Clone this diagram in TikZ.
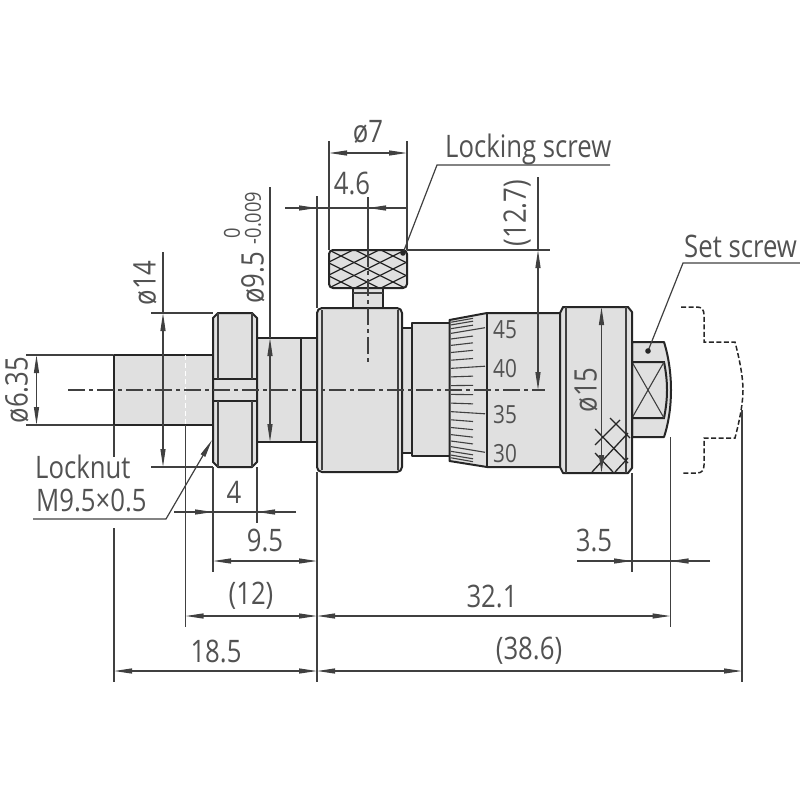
\documentclass[tikz,border=0pt]{standalone}
\usepackage{fontspec}
\setmainfont[FakeStretch=0.83]{Open Sans}
\usetikzlibrary{arrows.meta}

\begin{document}
\begin{tikzpicture}[x=1pt,y=-1pt,
	every node/.style={inner sep=0pt,text=black!68,font=\fontsize{31}{33}\selectfont},
	outline/.style={draw=black!85,line width=2pt,fill=black!12,line join=round},
	edge/.style={draw=black!85,line width=2pt},
	fine/.style={draw=black!75,line width=1.1pt},
	knurl/.style={draw=black!85,line width=1.3pt},
	dim/.style={draw=black!75,line width=1.2pt,>={Triangle[length=18pt,width=5pt]}},
	centre/.style={draw=black!75,line width=1.2pt,dash pattern=on 17pt off 4pt on 4pt off 4pt},
	hidden/.style={draw=black!85,line width=1.5pt,dash pattern=on 5pt off 2.5pt},
	small/.style={font=\fontsize{25}{27}\selectfont},
	tol/.style={font=\fontsize{22}{24}\selectfont},
]
\useasboundingbox (0,0) rectangle (800,800);

% micrometer head, left to right
\draw[outline] (113.5,355) rectangle (213,425);
\draw[outline] (257,338) rectangle (301,442);
\draw[outline] (301,338) rectangle (317,442);
\draw[outline] (218,313) -- (252,313) -- (257,318) -- (257,462) -- (252,467) -- (218,467) -- (213,462) -- (213,318) -- cycle;
\draw[edge] (213,379) -- (257,379) (213,401) -- (257,401);
\draw[fine] (218,313) -- (218,379) (218,401) -- (218,467);
\draw[fine] (252,313) -- (252,379) (252,401) -- (252,467);

\draw[outline] (402,328) rectangle (411.5,453);
\draw[outline] (411.5,323) rectangle (449.5,456);
\draw[outline] (353,288) rectangle (383,308);
\draw[fine] (353,293) -- (383,293);
\draw[outline,rounded corners=5pt] (317,308) rectangle (402,472);
\draw[fine] (322,310) -- (322,470) (398,310) -- (398,470);

\draw[outline] (449.5,320) -- (487,313) -- (560,313) -- (560,467) -- (487,467) -- (449.5,461) -- cycle;
\draw[edge] (487,313) -- (487,467);

% thimble graduations
\foreach \t in {-75.6,-68.4,-61.2,-46.8,-39.6,-32.4,-25.2,-10.8,-3.6,3.6,10.8,25.2,32.4,39.6,46.8,61.2,68.4,75.6}
	\draw[fine] (451,{390+70*sin(\t)}) -- (473,{390+74*sin(\t)});
\foreach \t in {-54,-18,18,54}
	\draw[fine] (451,{390+70*sin(\t)}) -- (485,{390+77*sin(\t)});

\draw[outline] (632,342) -- (664,342) .. controls (669,358) and (671,375) .. (671,390) .. controls (671,405) and (669,422) .. (664,437) -- (632,437) -- cycle;
\draw[edge] (632,362) -- (664,362) .. controls (666,372) and (667,381) .. (667,390) .. controls (667,399) and (666,408) .. (664,418) -- (632,418);
\draw[fine] (632,362) -- (664,418) (632,418) -- (664,362);
\draw[outline] (560,313) -- (563,307) -- (628,307) -- (632,312) -- (632,468) -- (628,473) -- (563,473) -- (560,467) -- cycle;
\draw[fine] (566,307) -- (566,473) (626,307) -- (626,473);

% ratchet knurl
\foreach \xa/\ya/\xb/\yb in {610/418/630/438,595/429/628/463,595/453/613/472,620/420/595/445,628/433/592/472,628/458/615/472}
	\draw[knurl] (\xa,\ya) -- (\xb,\yb);

% locking screw head
\begin{scope}
	\clip[rounded corners=4pt] (329,250) rectangle (407,288);
	\fill[black!12] (329,250) rectangle (407,288);
	\foreach \x in {-52,-26,...,130}{
		\draw[knurl] (\x+277,250) -- ++(76,38);
		\draw[knurl] (\x+277,288) -- ++(76,-38);
	}
\end{scope}
\draw[edge,rounded corners=4pt] (329,250) rectangle (407,288);

% stem hidden line, ratchet outline
\draw[draw=white,line width=1pt,dash pattern=on 5pt off 3pt] (185.5,355) -- (185.5,425);
\draw[hidden] (681,307) -- (697,307) .. controls (702,307) and (704,310) .. (704,315) -- (704,342) -- (735,342) .. controls (741,365) and (743,380) .. (743,390) .. controls (743,400) and (741,415) .. (735,438) -- (704,438) -- (704,465) .. controls (704,470) and (702,473) .. (697,473) -- (681,473);

% centre lines
\draw[centre] (68,390) -- (545,390);
\draw[centre] (368,250) -- (368,362);

% extension lines
\foreach \xa/\ya/\xb/\yb in {
	26/355/113/355,26/425/113/425,114/425/114/457,114/528/114/682,
	151/313/213/313,151/467/213/467,185.5/425/185.5/627,
	213/467/213/572,257/467/257/523,317/472/317/682,
	317/196/317/308,329/141/329/250,407/141/407/250,368/197/368/250,
	407/250/550/250,632/473/632/572,670.5/437/670.5/627,742/410/742/682,
	538/177/538/250,270/187/270/338,163/252/163/313,
	174/512/296/512,285/208/407/208,577/561/710/561}
	\draw[dim] (\xa,\ya) -- (\xb,\yb);

% dimension lines with tips inside
\foreach \xa/\ya/\xb/\yb in {
	36.5/355/36.5/425,163/313/163/467,270/338/270/442,329/153/407/153,
	601.5/307/601.5/473,213/561/317/561,185.5/616/317/616,114/671/317/671,
	538/250/538/390,317/616/670.5/616,317/671/742/671}
	\draw[dim,<->] (\xa,\ya) -- (\xb,\yb);
\draw[dim,->] (174,512) -- (213,512);
\draw[dim,->] (296,512) -- (257,512);
\draw[dim,->] (285,208) -- (317,208);
\draw[dim,->] (407,208) -- (368,208);
\draw[dim,->] (577,561) -- (632,561);
\draw[dim,->] (710,561) -- (670.5,561);

% leaders
\coordinate (locknutEnd) at (33,519);
\coordinate (locknutBend) at (166,519);
\coordinate (locknutTip) at (212,440);
\draw[dim,->] (locknutEnd) -- (locknutBend) -- (locknutTip);
\coordinate (lockEnd) at (610,165);
\coordinate (lockBend) at (437,165);
\coordinate (lockDot) at (403,253);
\draw[dim] (lockEnd) -- (lockBend) -- (lockDot);
\fill[black!85] (lockDot) circle[radius=2.8pt];
\coordinate (setEnd) at (800,263);
\coordinate (setBend) at (683,263);
\coordinate (setDot) at (648,351);
\draw[dim] (setEnd) -- (setBend) -- (setDot);
\fill[black!85] (setDot) circle[radius=2.8pt];

% labels
\foreach \n/\x/\y/\t in {
	lblA/234/492/4,lblB/265/540/9.5,lblC/251/596/{(12)},lblD/216/651/18.5,
	lblE/492/596/32.1,lblF/529/651/{(38.6)},lblG/594/540/3.5,
	lblH/352/183/4.6,lblI/368/132/ø7}
	\node (\n) at (\x,\y) {\t};
\foreach \n/\y/\t in {num45/330/45,num40/369/40,num35/415/35,num30/454/30}
	\node[small] (\n) at (505,\y) {\t};
\foreach \n/\x/\y/\t in {
	rotA/17/390/ø6.35,rotB/145/283/ø14,rotC/253/278/ø9.5,
	rotD/517/213/{(12.7)},rotE/586/390/ø15}
	\node[rotate=90] (\n) at (\x,\y) {\t};
\node[tol,rotate=90] (rotF) at (232,233) {0};
\node[tol,rotate=90] (rotG) at (253,218) {-0.009};
\node[anchor=base west] (locknut) at (35,478) {Locknut};
\node[anchor=base west] (thread) at (36,511) {M9.5×0.5};
\node[anchor=base west] (lockscrew) at (445,157) {Locking screw};
\node[anchor=base west] (setscrew) at (684,257) {Set screw};

\end{tikzpicture}
\end{document}
